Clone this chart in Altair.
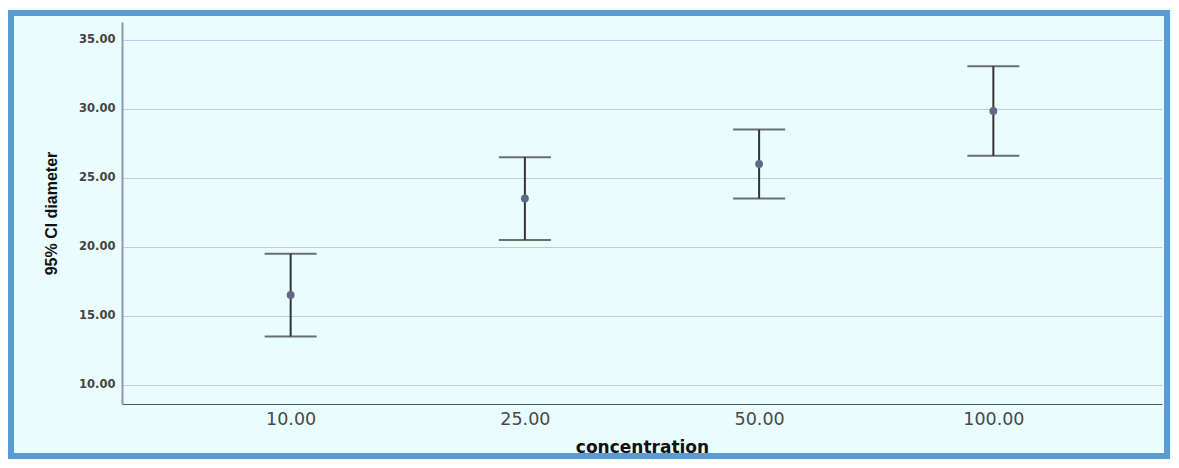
import altair as alt
import pandas as pd

concentration = ["10.00", "25.00", "50.00", "100.00"]
mean_diameter = [16.5, 23.5, 26.0, 29.85]
ci_lower = [13.5, 20.5, 23.5, 26.6]
ci_upper = [19.5, 26.5, 28.5, 33.1]
y_ticks = [10, 15, 20, 25, 30, 35]

df = pd.DataFrame({
    "concentration": concentration,
    "mean": mean_diameter,
    "low": ci_lower,
    "high": ci_upper,
})

x_enc = alt.X(
    "concentration:N",
    sort=concentration,
    scale=alt.Scale(type="point", padding=0.72),
    axis=alt.Axis(
        title="concentration",
        labelAngle=0,
        labelFontSize=17.5,
        labelColor="#484848",
        labelFont="DejaVu Sans",
        labelPadding=6,
        ticks=False,
        domainColor="#555555",
        domainWidth=1,
        grid=False,
        titleFont="DejaVu Sans",
        titleFontSize=17,
        titleFontWeight="bold",
        titleColor="#111111",
        titlePadding=12,
    ),
)

y_scale = alt.Scale(domain=[8.6, 36.3], nice=False, zero=False)

base = alt.Chart(df)

rules = base.mark_rule(color="#333333", strokeWidth=2).encode(
    x=x_enc,
    y=alt.Y(
        "low:Q",
        scale=y_scale,
        axis=alt.Axis(
            title="95% CI diameter",
            values=y_ticks,
            format=".2f",
            labelFontSize=11.5,
            labelFontWeight="bold",
            labelColor="#444444",
            labelFont="DejaVu Sans",
            labelPadding=7,
            ticks=False,
            domainColor="#8C96B4",
            domainWidth=2,
            gridColor="#BCCCEA",
            gridWidth=1,
            titleFont="Liberation Sans",
            titleFontSize=16,
            titleFontWeight="bold",
            titleColor="#111111",
            titlePadding=19,
        ),
    ),
    y2="high:Q",
)

caps_low = base.mark_tick(color="#333333", thickness=2, size=52).encode(
    x=alt.X("concentration:N", sort=concentration),
    y=alt.Y("low:Q", scale=y_scale),
)
caps_high = base.mark_tick(color="#333333", thickness=2, size=52).encode(
    x=alt.X("concentration:N", sort=concentration),
    y=alt.Y("high:Q", scale=y_scale),
)
points = base.mark_circle(color="#5E6A8A", opacity=1, size=62).encode(
    x=alt.X("concentration:N", sort=concentration),
    y=alt.Y("mean:Q", scale=y_scale),
)

frame = alt.Chart(pd.DataFrame({"a": [0]})).mark_rect(
    fill=None, fillOpacity=0, stroke="#5B9BD5", strokeWidth=6, clip=False
).encode(
    x=alt.value(-111), x2=alt.value(1045), y=alt.value(-9), y2=alt.value(434)
)

chart = alt.layer(rules, caps_low, caps_high, points, frame).properties(
    width=1040,
    height=382,
    padding={"left": 114, "top": 14, "right": 9, "bottom": 56},
    autosize=alt.AutoSizeParams(type="none"),
    background="#EAFDFE",
).configure_view(stroke=None)

chart.save("out.html", embed_options={"renderer": "svg", "actions": False})
